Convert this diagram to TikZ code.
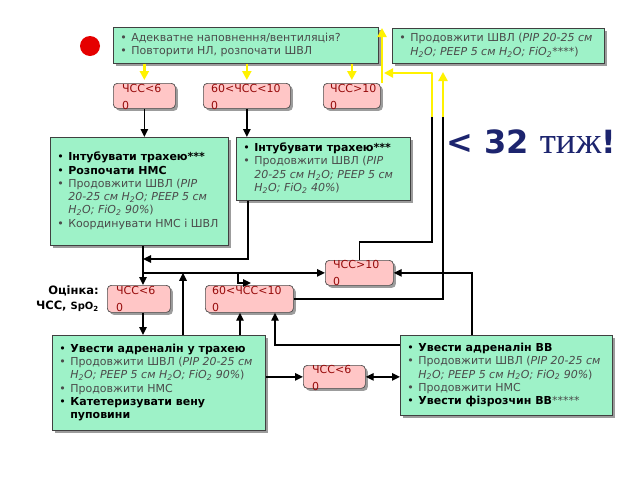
\documentclass[tikz,border=0pt]{standalone}
\usepackage{fontspec}
\setmainfont{DejaVu Sans}
\newfontfamily\serifc{Liberation Serif}
\usetikzlibrary{arrows.meta,shadows,calc}
\definecolor{mint}{RGB}{158,242,200}
\definecolor{pinkf}{RGB}{255,198,198}
\definecolor{dred}{RGB}{150,10,10}
\definecolor{navy}{RGB}{28,36,110}
\definecolor{txtg}{RGB}{75,75,75}
\newcommand{\itm}[1]{{\makebox[11pt][l]{•}#1}}
\newcommand{\ritm}[1]{{\color{txtg}\makebox[11pt][l]{•}#1}}
\newcommand{\cnt}[1]{{\color{txtg}\hspace*{11pt}#1}}
\newcommand{\sbs}[1]{\textsubscript{#1}}
\newcommand{\gtx}[2]{\makebox[#1][l]{\begin{tabular}{@{}l@{}}#2\end{tabular}}}
\tikzset{
  gbox/.style={draw=black!75, line width=0.7pt, fill=mint,
    drop shadow={shadow xshift=3pt,shadow yshift=-3pt,opacity=0.55,fill=black!70},
    anchor=north west, inner xsep=7pt, inner ysep=2pt,
    font=\fontsize{11}{13.3}\selectfont},
  pbox/.style={draw=black!70, line width=0.7pt, fill=pinkf, rounded corners=4pt,
    drop shadow={shadow xshift=2.5pt,shadow yshift=-2.5pt,opacity=0.55,fill=black!70},
    anchor=north west, inner sep=0pt},
  ptxt/.style={anchor=north west, inner sep=0pt, text=dred, align=left,
    font=\fontsize{11}{17}\selectfont},
  bline/.style={draw=black, line width=1.4pt},
  arr/.style={draw=black, line width=1.4pt, -{Triangle[length=8pt,width=7.5pt]}},
  darr/.style={draw=black, line width=1.4pt, {Triangle[length=8pt,width=7.5pt]}-{Triangle[length=8pt,width=7.5pt]}},
  yarr/.style={draw=yellow, line width=2.5pt, line join=round, -{Triangle[length=9pt,width=9pt]}},
}
\begin{document}
\begin{tikzpicture}[x=1pt,y=-1pt]
\useasboundingbox[fill=white] (0,0) rectangle (640,480);

% red dot
\fill[red!90!black] (90,46) circle (10);

% green boxes
\node[gbox, minimum height=36pt] (g1) at (113,27) {\gtx{251pt}{
 \ritm{Адекватне наповнення/вентиляція?}\\
 \ritm{Повторити НЛ, розпочати ШВЛ}}};
\node[gbox, minimum height=35pt] (g2) at (392,28) {\gtx{198pt}{
 \ritm{Продовжити ШВЛ (\textit{PIP 20-25 см}}\\
 \cnt{\textit{H\sbs{2}O; PEEP 5 см H\sbs{2}O; FiO\sbs{2}****})}}};
\node[gbox, minimum height=108pt] (a) at (50,137) {\gtx{164pt}{
 \itm{\textbf{Інтубувати трахею***}}\\
 \itm{\textbf{Розпочати НМС}}\\
 \ritm{Продовжити ШВЛ (\textit{PIP}}\\
 \cnt{\textit{20-25 см H\sbs{2}O; PEEP 5 см}}\\
 \cnt{\textit{H\sbs{2}O; FiO\sbs{2} 90\%})}\\
 \ritm{Координувати НМС і ШВЛ}}};
\node[gbox, minimum height=63pt] (b) at (236,137) {\gtx{160pt}{
 \itm{\textbf{Інтубувати трахею***}}\\
 \ritm{Продовжити ШВЛ (\textit{PIP}}\\
 \cnt{\textit{20-25 см H\sbs{2}O; PEEP 5 см}}\\
 \cnt{\textit{H\sbs{2}O; FiO\sbs{2} 40\%})}}};
\node[gbox, minimum height=95pt] (c) at (52,335) {\gtx{199pt}{
 \itm{\textbf{Увести адреналін у трахею}}\\
 \ritm{Продовжити ШВЛ (\textit{PIP 20-25 см}}\\
 \cnt{\textit{H\sbs{2}O; PEEP 5 см H\sbs{2}O; FiO\sbs{2} 90\%})}\\
 \ritm{Продовжити НМС}\\
 \itm{\textbf{Катетеризувати вену}}\\
 \hspace*{11pt}\textbf{пуповини}}};
\node[gbox, minimum height=80pt] (d) at (400,335) {\gtx{198pt}{
 \itm{\textbf{Увести адреналін ВВ}}\\
 \ritm{Продовжити ШВЛ (\textit{PIP 20-25 см}}\\
 \cnt{\textit{H\sbs{2}O; PEEP 5 см H\sbs{2}O; FiO\sbs{2} 90\%})}\\
 \ritm{Продовжити НМС}\\
 \itm{\textbf{Увести фізрозчин ВВ}{\color{txtg}*****}}}};

% pink boxes
\node[pbox, minimum width=62pt, minimum height=25pt] (p1) at (113,83) {};
\node[pbox, minimum width=87pt, minimum height=25pt] (p2) at (203,83) {};
\node[pbox, minimum width=57pt, minimum height=25pt] (p3) at (323,83) {};
\node[pbox, minimum width=63pt, minimum height=27pt] (p4) at (107,285) {};
\node[pbox, minimum width=88pt, minimum height=27pt] (p5) at (205,285) {};
\node[pbox, minimum width=68pt, minimum height=25pt] (p6) at (325,260) {};
\node[pbox, minimum width=62pt, minimum height=23pt] (p7) at (303,365) {};
\node[ptxt] (p1t) at ($(p1.north west)+(9,1)$) {ЧСС<6\\0};
\node[ptxt] (p2t) at ($(p2.north west)+(8,1)$) {60<ЧСС<10\\0};
\node[ptxt] (p3t) at ($(p3.north west)+(7,1)$) {ЧСС>10\\0};
\node[ptxt] (p4t) at ($(p4.north west)+(9,1)$) {ЧСС<6\\0};
\node[ptxt] (p5t) at ($(p5.north west)+(7,1)$) {60<ЧСС<10\\0};
\node[ptxt] (p6t) at ($(p6.north west)+(8,0)$) {ЧСС>10\\0};
\node[ptxt] (p7t) at ($(p7.north west)+(9,0)$) {ЧСС<6\\0};

% labels
\node[anchor=east, align=right, inner sep=0pt, font=\bfseries\fontsize{11.5}{15}\selectfont] (ev) at (99,299)
 {Оцінка:\\ЧСС, {\fontsize{10}{10}\selectfont SpO\textsubscript{2}}};
\node[anchor=base west, inner sep=0pt, text=navy, font=\bfseries\fontsize{32}{32}\selectfont] (wk) at (446,153)
 {< 32 {\serifc\mdseries\fontsize{37}{37}\selectfont тиж}!};

% helper coordinates
\coordinate (x143) at (143,0);
\coordinate (x183) at (183,0);
\coordinate (x240) at (240,0);
\coordinate (x248) at (248,0);
\coordinate (x275) at (275,0);
\coordinate (x472) at (472,0);
\coordinate (yx) at (382,0);
\coordinate (h259) at (0,259);
\coordinate (y345) at (0,345);
\coordinate (k1) at (432,242);
\coordinate (k2) at (432,117);
\coordinate (k3) at (432,73);
\coordinate (m1) at (443,117);
\coordinate (m2) at (443,72);
\coordinate (q1) at (238,273);
\coordinate (q2) at (251,283);

% yellow connectors
\draw[yarr, shorten >=3pt] (g1.south -| p1.north) -- (p1.north);
\draw[yarr, shorten >=3pt] (g1.south -| p2.north) -- (p2.north);
\draw[yarr, shorten >=3pt] (g1.south -| p3.north) -- (p3.north);
\draw[yarr] (yx |- p3.north) -- (yx |- g2.north);
\draw[bline] (p6.north) |- (k1) -- (k2);
\draw[yarr, shorten >=2pt] (k2) -- (k3) -- (yx |- k3);
\draw[bline] (p5.east) -| (m1);
\draw[yarr] (m1) -- (m2);

% black connectors
\draw[arr] (p1.south) -- (p1.south |- a.north);
\draw[arr] (p2.south) -- (p2.south |- b.north);
\draw[arr] (x143 |- a.south) -- (x143 |- p4.north);
\draw[arr] (x248 |- b.south) |- (x143 |- h259);
\draw[arr] (x143 |- p6.west) -- (p6.west);
\draw[arr] (q1) |- (q2);
\draw[arr] (x183 |- c.north) -- (x183 |- p6.west);
\draw[arr] (x143 |- p4.south) -- (x143 |- c.north);
\draw[arr] (x240 |- c.north) -- (x240 |- p5.south);
\draw[arr] (d.west |- y345) -| (x275 |- p5.south);
\draw[arr] (x472 |- d.north) |- (p6.east);
\draw[arr] (c.east |- p7.west) -- (p7.west);
\draw[darr] (p7.east) -- (p7.east -| d.west);
\end{tikzpicture}
\end{document}
